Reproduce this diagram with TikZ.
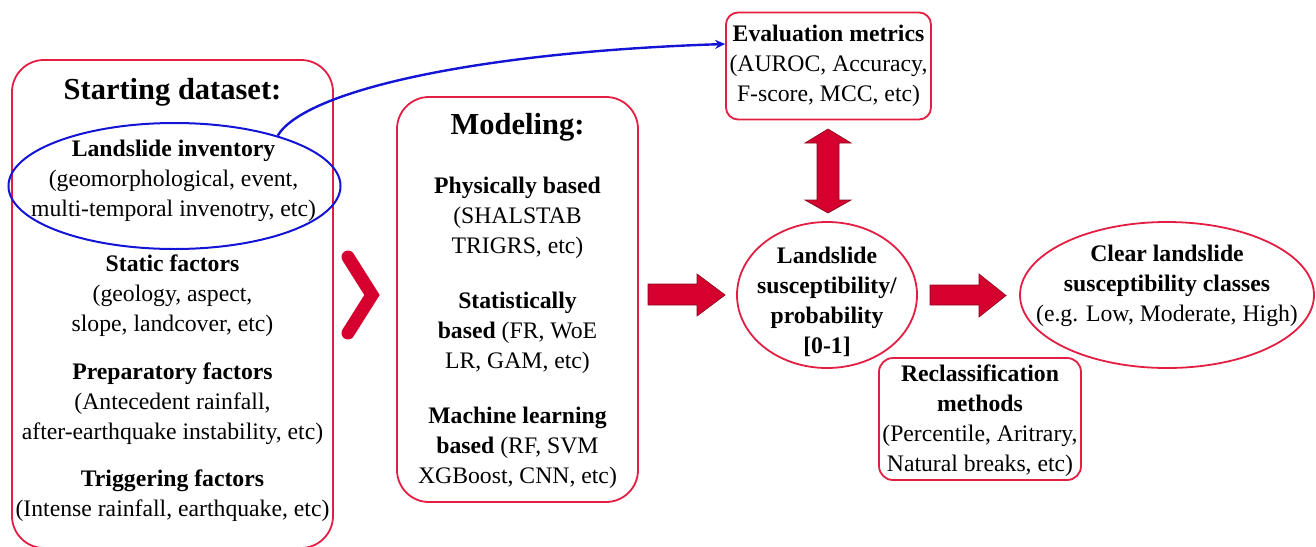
\documentclass[tikz,border=0pt]{standalone}
\usepackage{fontspec}
\setmainfont{Liberation Serif}
\usetikzlibrary{arrows.meta,shapes.geometric}
\definecolor{boxred}{RGB}{226,30,66}
\definecolor{fillred}{RGB}{214,0,46}
\definecolor{edgered}{RGB}{140,10,35}
\definecolor{invblue}{RGB}{20,20,215}
\begin{document}
\begin{tikzpicture}[x=1pt,y=-1pt,
  rbox/.style={draw=boxred,line width=1.8pt,rounded corners=#1,inner sep=0pt},
  rell/.style={ellipse,draw=boxred,line width=1.8pt,inner sep=0pt},
  tx/.style={align=center,inner sep=0pt,anchor=base,font=\fontsize{23.7}{30}\selectfont},
  ttl/.style={inner sep=0pt,anchor=base,font=\fontsize{30.5}{36}\selectfont\bfseries},
  bigarrow/.style={fill=fillred,draw=edgered,line width=0.7pt,line join=miter},
  chev/.style={draw=fillred,line width=13pt,line cap=round,line join=miter},
  link/.style={draw=invblue,line width=2.4pt,-{Stealth[length=10pt,width=9pt]}}]
\useasboundingbox (0,0) rectangle (1316,546);
\clip (0,0) rectangle (1316,546);

% Starting dataset (text nodes anchored at the baseline of their last line)
\node[rbox=32pt,minimum width=321pt,minimum height=488pt] (start) at (172.5,304) {};
\node[ttl] (starttitle) at (172.5,99) {Starting dataset:};
\node[ellipse,draw=invblue,line width=2pt,minimum width=332pt,minimum height=126pt,inner sep=0pt] (inv) at (174.5,186) {};
\node[tx] (invtxt) at (173.5,216) {\textbf{Landslide inventory}\\(geomorphological, event,\\multi-temporal invenotry, etc)};
\node[tx] (static) at (172.5,331) {\textbf{Static factors}\\(geology, aspect,\\slope, landcover, etc)};
\node[tx] (prep) at (172.5,439) {\textbf{Preparatory factors}\\(Antecedent rainfall,\\after-earthquake instability, etc)};
\node[tx] (trig) at (172.5,516) {\textbf{Triggering factors}\\(Intense rainfall, earthquake, etc)};

% chevron
\draw[chev] (348,257) -- (372,295) -- (348,333);

% Modeling
\node[rbox=32pt,minimum width=241pt,minimum height=405pt] (model) at (517.5,299.5) {};
\node[ttl] (modeltitle) at (517.5,134) {Modeling:};
\node[tx] (phys) at (517.5,253) {\textbf{Physically based}\\(SHALSTAB\\TRIGRS, etc)};
\node[tx] (stat) at (517.5,368) {\textbf{Statistically}\\\textbf{based} (FR, WoE\\LR, GAM, etc)};
\node[tx] (ml) at (517.5,483) {\textbf{Machine learning}\\\textbf{based} (RF, SVM\\XGBoost, CNN, etc)};

% Evaluation metrics
\node[rbox=12pt,minimum width=205pt,minimum height=107pt] (eval) at (828.5,66) {};
\node[tx] (evaltxt) at (828.5,101) {\textbf{Evaluation metrics}\\(AUROC, Accuracy,\\F-score, MCC, etc)};

% Probability
\node[rell,minimum width=180pt,minimum height=146pt] (prob) at (827,295) {};
\node[tx,font=\fontsize{23.7}{30}\selectfont\bfseries] (probtxt) at (827,353) {Landslide\\susceptibility/\\probability\\{[0-1]}};

% Clear classes
\node[rell,minimum width=294pt,minimum height=146pt] (clear) at (1167,295) {};
\node[tx] (cleartxt) at (1167,321) {\textbf{Clear landslide}\\\textbf{susceptibility classes}\\(e.g. Low, Moderate, High)};

% Reclassification
\node[rbox=14pt,minimum width=202pt,minimum height=122pt] (recl) at (980,419) {};
\node[tx] (recltxt) at (980,471) {\textbf{Reclassification}\\\textbf{methods}\\(Percentile, Aritrary,\\Natural breaks, etc)};

% block arrows
\draw[bigarrow] (648,284) -- (697,284) -- (697,274) -- (725,295) -- (697,316) -- (697,305) -- (648,305) -- cycle;
\draw[bigarrow] (930,285) -- (979,285) -- (979,274) -- (1006,295.5) -- (979,317) -- (979,305) -- (930,305) -- cycle;
\draw[bigarrow] (828,129) -- (851,143) -- (839,143) -- (839,200) -- (851,200) -- (828,213) -- (805,200) -- (817,200) -- (817,143) -- (805,143) -- cycle;

% blue link
\draw[link] (inv.26) .. controls (305,90) and (480,52) .. ([yshift=22pt]eval.west);
\end{tikzpicture}
\end{document}
